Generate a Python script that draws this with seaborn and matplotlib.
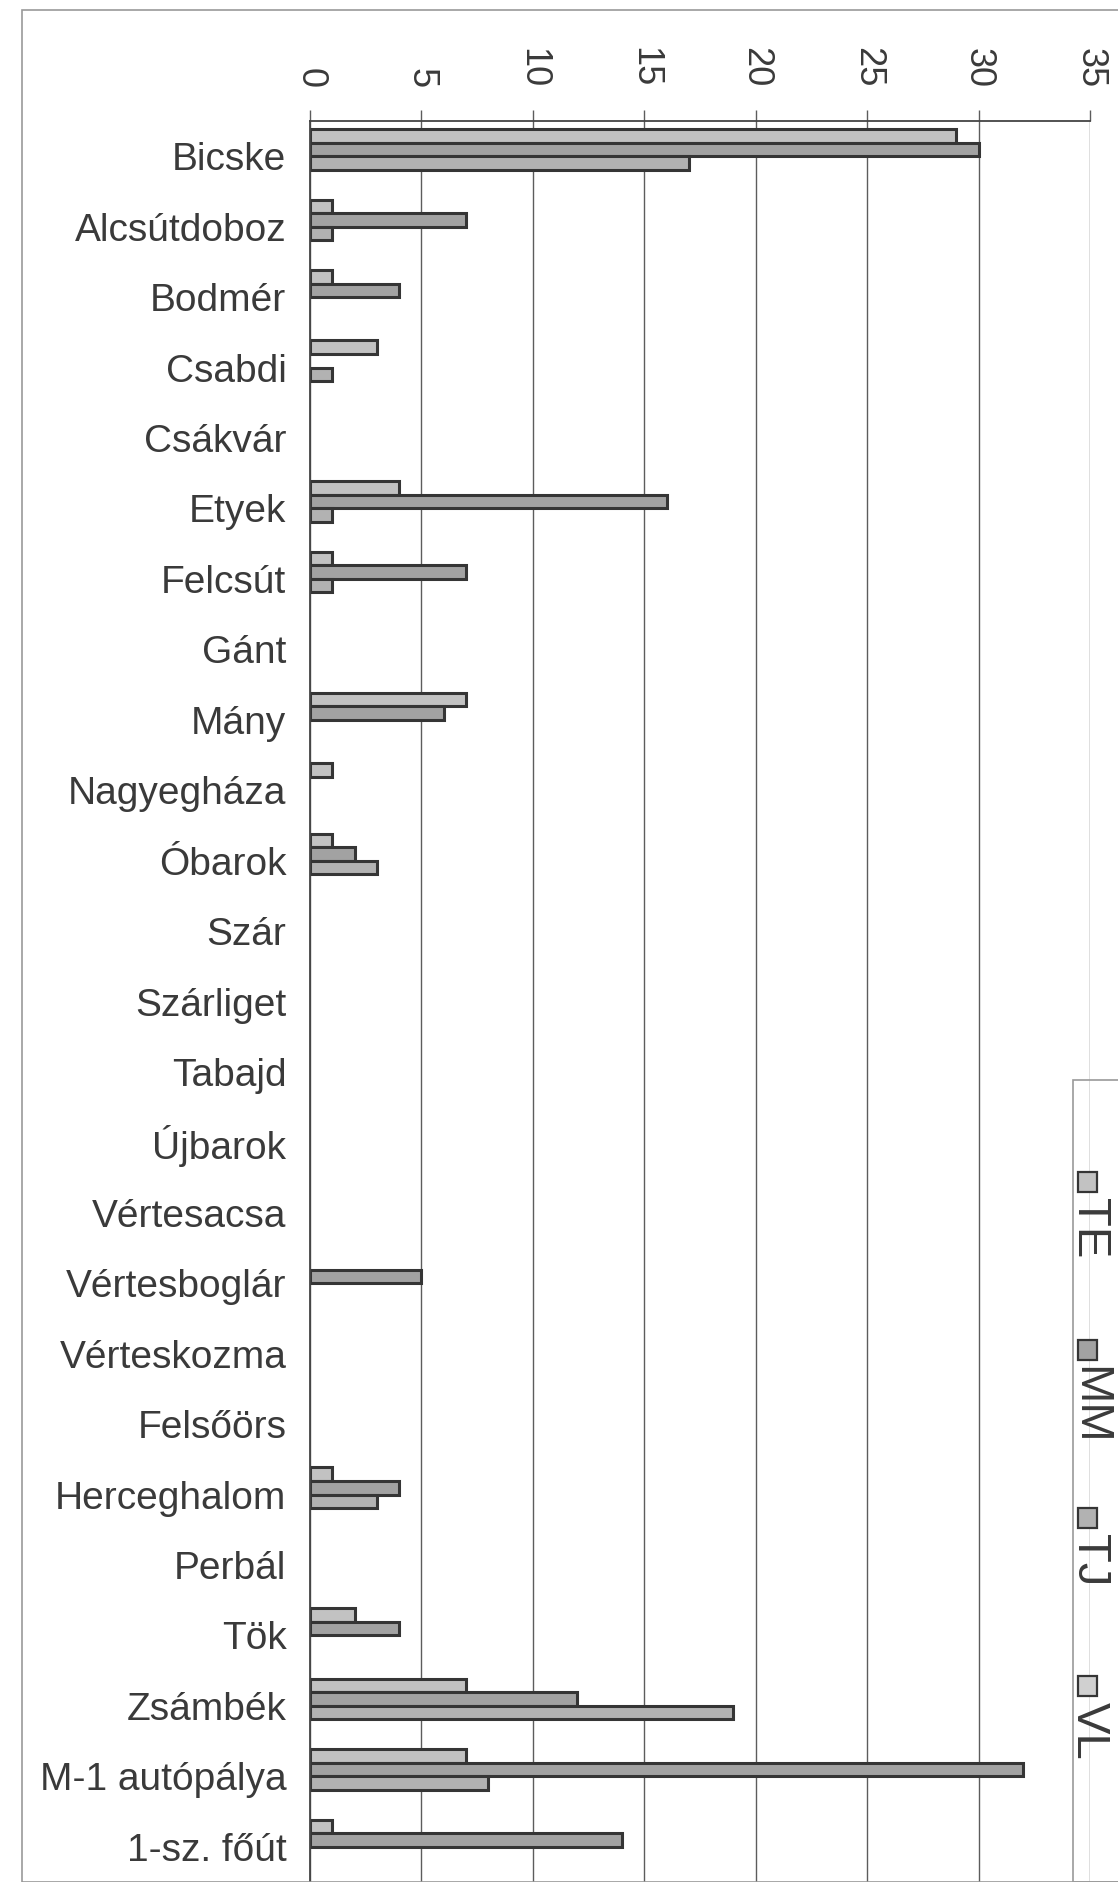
import numpy as np
import pandas as pd
import matplotlib
matplotlib.use("Agg")
import matplotlib.pyplot as plt
import seaborn as sns
from matplotlib.patches import Rectangle

# data ---------------------------------------------------------------------
places = ["Bicske", "Alcsútdoboz", "Bodmér", "Csabdi", "Csákvár", "Etyek",
          "Felcsút", "Gánt", "Mány", "Nagyegháza", "Óbarok", "Szár",
          "Szárliget", "Tabajd", "Újbarok", "Vértesacsa", "Vértesboglár",
          "Vérteskozma", "Felsőörs", "Herceghalom", "Perbál", "Tök",
          "Zsámbék", "M-1 autópálya", "1-sz. főút"]
series = ["TE", "MM", "TJ", "VL"]

te = [29, 1, 1, 3, 0, 4, 1, 0, 7, 1, 1, 0, 0, 0, 0, 0, 0, 0, 0, 1, 0, 2, 7, 7, 1]
mm = [30, 7, 4, 0, 0, 16, 7, 0, 6, 0, 2, 0, 0, 0, 0, 0, 5, 0, 0, 4, 0, 4, 12, 32, 14]
tj = [17, 1, 0, 1, 0, 1, 1, 0, 0, 0, 3, 0, 0, 0, 0, 0, 0, 0, 0, 3, 0, 0, 19, 8, 0]
vl = [0] * 25

x_ticks = [0, 5, 10, 15, 20, 25, 30, 35]

colors = {"TE": "#c2c2c2", "MM": "#a2a2a2", "TJ": "#b2b2b2", "VL": "#d0d0d0"}

# long table, zeros are not drawn in the original
rows = []
for name, vals in zip(series, [te, mm, tj, vl]):
    for p, v in zip(places, vals):
        rows.append({"place": p, "series": name, "value": v if v > 0 else np.nan})
df = pd.DataFrame(rows)

# figure -------------------------------------------------------------------
sns.set_style("white")
plt.rcParams["font.family"] = ["Liberation Sans", "DejaVu Sans"]
txt_col = "#3a3a3a"
grid_col = "#5c5c5c"

W, H = 1118, 1882
fig = plt.figure(figsize=(W / 100, H / 100), dpi=100)

def fx(p):
    return p / W

def fy(p):
    return 1 - p / H

ax = fig.add_axes([fx(310), 0, fx(1090 - 310), 1 - 121 / H])

sns.barplot(data=df, x="value", y="place", hue="series", hue_order=series,
            order=places, palette=colors, width=0.77, edgecolor="#353535",
            linewidth=2.2, errorbar=None, legend=False, ax=ax)

ax.set_xlim(0, 35)
ax.set_ylim(len(places) - 0.5, -0.5)
ax.set_xlabel("")
ax.set_ylabel("")

ax.xaxis.tick_top()
ax.set_xticks(x_ticks)
ax.set_xticklabels([str(t) for t in x_ticks])
ax.tick_params(axis="x", top=True, bottom=False, direction="out", length=8,
               width=1, color=grid_col, pad=16, labelsize=26,
               labelcolor=txt_col, labelrotation=-90)

ax.set_yticks(range(len(places)))
ax.set_yticklabels(places)
ax.tick_params(axis="y", which="major", length=0, pad=17, labelsize=28,
               labelcolor=txt_col)
ax.set_yticks(np.arange(-0.5, len(places), 1), minor=True)
ax.tick_params(axis="y", which="minor", length=9, width=1, color=grid_col,
               direction="out")

ax.grid(axis="x", color=grid_col, linewidth=1)
ax.grid(axis="y", visible=False)
ax.set_axisbelow(True)
for s in ["right", "bottom"]:
    ax.spines[s].set_visible(False)
for s in ["top", "left"]:
    ax.spines[s].set_color("#444444")
    ax.spines[s].set_linewidth(1.3)

# chart frame (only top and left edges are inside the picture)
fig.patches.append(Rectangle((fx(22), 0), 1.0, fy(10), transform=fig.transFigure,
                             fill=False, edgecolor="#9a9a9a", linewidth=1.2))

# rotated legend, entries stacked downwards
fig.patches.append(Rectangle((fx(1073), 0), 1.0, fy(1080), transform=fig.transFigure,
                             fill=False, edgecolor="#9a9a9a", linewidth=1.2))
for i, name in enumerate(series):
    top = 1172 + i * 168
    fig.patches.append(Rectangle((fx(1078), fy(top + 20)), fx(19), 20 / H,
                                 transform=fig.transFigure, facecolor=colors[name],
                                 edgecolor="#353535", linewidth=1.6))
    fig.text(fx(1089), fy(top + 26), name, rotation=-90, ha="center", va="top",
             fontsize=34, color=txt_col)

fig.savefig("out.png", dpi=100, facecolor="white")
